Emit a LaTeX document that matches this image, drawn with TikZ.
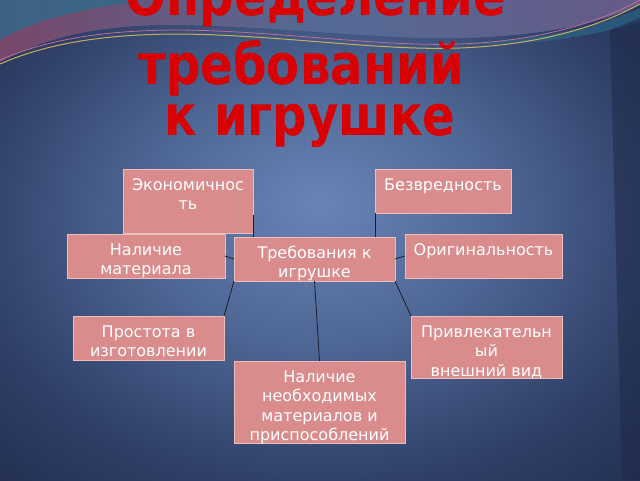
\documentclass[tikz,border=0pt]{standalone}
\usepackage{fontspec}
\setmainfont{DejaVu Sans}
\newfontfamily\boxfont{DejaVu Sans}
\newfontfamily\titlefont{DejaVu Sans Bold}
\usetikzlibrary{calc}
\definecolor{bgcA}{RGB}{104,132,182}
\definecolor{bgcB}{RGB}{78,102,148}
\definecolor{bgcC}{RGB}{46,62,102}
\definecolor{bgcD}{RGB}{30,42,74}
\definecolor{boxpink}{RGB}{218,140,140}
\definecolor{boxedge}{RGB}{236,190,190}
\definecolor{titlered}{RGB}{216,0,0}
\definecolor{conncol}{RGB}{28,30,44}
\definecolor{bandL}{RGB}{128,66,100}
\definecolor{bandM}{RGB}{84,108,150}
\definecolor{bandR}{RGB}{108,88,136}
\definecolor{tealc}{RGB}{44,108,140}
\definecolor{goldline}{RGB}{200,176,90}
\definecolor{pinkline}{RGB}{190,110,150}
\pgfdeclareradialshading{bgshade}{\pgfpoint{0bp}{4bp}}{color(0bp)=(bgcA); color(14bp)=(bgcB); color(28bp)=(bgcC); color(40bp)=(bgcD); color(50bp)=(bgcD)}
\newcommand{\bxt}[3]{\parbox[c][#2][t]{#1}{\centering\rule{0pt}{21pt}#3}}
\tikzset{
  box/.style={fill=boxpink, draw=boxedge, line width=0.6pt, inner sep=0pt, outer sep=0pt,
    text=white, font=\boxfont\fontsize{16}{19.5}\selectfont},
  conn/.style={draw=conncol, line width=0.8pt},
  ttl/.style={text=titlered, font=\titlefont\fontsize{56}{66}\selectfont, inner sep=0pt, anchor=base, xscale=0.86}
}
\begin{document}
\begin{tikzpicture}[x=1pt,y=-1pt]
\useasboundingbox (0,0) rectangle (640,480);
% background
\fill[shading=bgshade] (0,0) rectangle (640,480);
\fill[bandM, left color=bandL, right color=bandR, middle color=bandM, opacity=0.85]
  (0,0) -- (640,0) -- (640,4) .. controls (600,24) and (540,36) .. (460,38)
  .. controls (380,40) and (260,24) .. (160,25) .. controls (90,26) and (40,40) .. (0,62) -- cycle;
\fill[tealc, opacity=0.75] (0,0) -- (150,0) .. controls (80,8) and (30,22) .. (0,40) -- cycle;
\fill[tealc, opacity=0.6] (640,8) .. controls (600,26) and (550,38) .. (470,44) .. controls (540,46) and (600,34) .. (640,22) -- cycle;
\fill[bgcD, opacity=0.55] (610,30) -- (640,18) -- (640,480) -- (622,480) -- cycle;
\draw[pinkline, line width=0.8pt] (0,60) .. controls (50,38) and (110,30) .. (180,30) .. controls (280,31) and (380,47) .. (460,44) .. controls (540,41) and (600,22) .. (640,0);
\draw[goldline, line width=1pt] (0,64) .. controls (50,42) and (110,34) .. (180,34) .. controls (280,35) and (380,51) .. (460,48) .. controls (540,45) and (600,26) .. (640,4);
% title
\node[ttl] (t1) at (316,15) {Определение};
\node[ttl] (t2) at (301,84) {требований};
\node[ttl] (t3) at (310,135) {к игрушке};
% boxes
\node[box] (econ) at (188,201) {\bxt{130pt}{64pt}{Экономичнос\\ть}};
\node[box] (bezv) at (443,191) {\bxt{136pt}{44pt}{Безвредность}};
\node[box] (nalmat) at (146,256) {\bxt{158pt}{44pt}{Наличие\\материала}};
\node[box] (treb) at (314.5,259) {\bxt{161pt}{44pt}{Требования к\\игрушке}};
\node[box] (orig) at (483.5,256) {\bxt{157pt}{44pt}{Оригинальность}};
\node[box] (prost) at (148.5,338) {\bxt{151pt}{44pt}{Простота в\\изготовлении}};
\node[box] (privl) at (486.5,347) {\bxt{151pt}{62pt}{Привлекательн\\ый\\внешний вид}};
\node[box] (nalneob) at (319.5,402) {\bxt{171pt}{82pt}{Наличие\\необходимых\\материалов и\\приспособлений}};
% connectors
\draw[conn] ($(econ.south east)+(0,-18)$) -- (econ.south east |- treb.north);
\draw[conn] (bezv.south west) -- (bezv.south west |- treb.north);
\draw[conn] (nalmat.east) -- (treb.west);
\draw[conn] (treb.east) -- (orig.west);
\draw[conn] (treb.south west) -- (prost.north east);
\draw[conn] (treb.south) -- (nalneob.north);
\draw[conn] (treb.south east) -- (privl.north west);
\end{tikzpicture}
\end{document}
